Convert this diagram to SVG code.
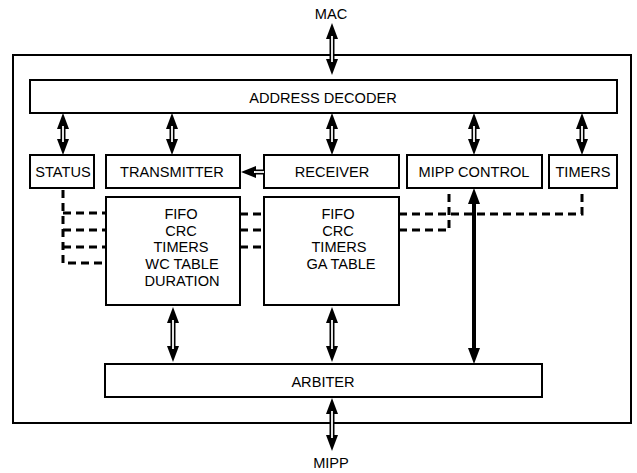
<svg xmlns="http://www.w3.org/2000/svg" width="637" height="473" viewBox="0 0 637 473">
<style>
.box{fill:#fff;stroke:#000;stroke-width:2}
.t{font-family:"Liberation Sans",Arial,sans-serif;font-size:14.6px;fill:#000;text-anchor:middle}
.hd{fill:#000;stroke:none}
.sh{stroke:#000;stroke-width:5;fill:none}
.wi{stroke:#fff;stroke-width:1.8;fill:none}
.dash{stroke:#000;stroke-width:3;fill:none;stroke-dasharray:8 5}
.solid{stroke:#000;stroke-width:4;fill:none}
</style>
<g id="outer"><rect class="box" x="13" y="55" width="618" height="368"/></g>
<g id="address-decoder"><rect class="box" x="30" y="80" width="587" height="33"/><text class="t" x="323" y="103">ADDRESS DECODER</text></g>
<g id="status"><rect class="box" x="30" y="155" width="64" height="33"/><text class="t" x="63" y="177">STATUS</text></g>
<g id="transmitter"><rect class="box" x="106" y="155" width="134" height="33"/><text class="t" x="172" y="177">TRANSMITTER</text></g>
<g id="receiver"><rect class="box" x="264" y="155" width="135" height="33"/><text class="t" x="332" y="177">RECEIVER</text></g>
<g id="mipp-control"><rect class="box" x="407" y="155" width="135" height="33"/><text class="t" x="474" y="177">MIPP CONTROL</text></g>
<g id="timers"><rect class="box" x="549" y="155" width="68" height="33"/><text class="t" x="583" y="177">TIMERS</text></g>
<g id="tx-blocks"><rect class="box" x="106" y="197" width="134" height="108"/>
<text class="t" x="181" y="219">FIFO</text><text class="t" x="181" y="235.7">CRC</text><text class="t" x="181" y="252.4">TIMERS</text><text class="t" x="182" y="269.1">WC TABLE</text><text class="t" x="182" y="285.8">DURATION</text></g>
<g id="rx-blocks"><rect class="box" x="264" y="197" width="135" height="108"/>
<text class="t" x="338" y="219">FIFO</text><text class="t" x="338" y="235.7">CRC</text><text class="t" x="339" y="252.4">TIMERS</text><text class="t" x="341" y="269.1">GA TABLE</text></g>
<g id="arbiter"><rect class="box" x="105" y="364" width="437" height="33"/><text class="t" x="323" y="387">ARBITER</text></g>
<g id="mac-label"><text class="t" x="331" y="18.5">MAC</text></g>
<g id="mipp-label"><text class="t" x="331" y="468">MIPP</text></g>
<g id="connectors">
<path class="dash" d="M63,190 V263 H106 M63,213 H106 M63,230 H106 M63,247 H106"/>
<path class="dash" d="M240,214 H264 M240,230 H264 M240,247 H264"/>
<path class="dash" d="M399,214 H582 V188 M399,230 H449 V188"/>
<line class="solid" x1="474" y1="200" x2="474" y2="352"/>
<polygon class="hd" points="474,188 468,204 480,204"/>
<polygon class="hd" points="474,364 468,348 480,348"/>
<g>
<line class="sh" x1="332" y1="35" x2="332" y2="63"/>
<polygon class="hd" points="332,23 326,39 338,39"/><polygon class="hd" points="332,75 326,59 338,59"/>
<line class="wi" x1="332" y1="36" x2="332" y2="62"/>
</g>
<g>
<line class="sh" x1="63" y1="125" x2="63" y2="143"/>
<polygon class="hd" points="63,113 57,129 69,129"/><polygon class="hd" points="63,155 57,139 69,139"/>
<line class="wi" x1="63" y1="126" x2="63" y2="142"/>
</g>
<g>
<line class="sh" x1="172" y1="125" x2="172" y2="143"/>
<polygon class="hd" points="172,113 166,129 178,129"/><polygon class="hd" points="172,155 166,139 178,139"/>
<line class="wi" x1="172" y1="126" x2="172" y2="142"/>
</g>
<g>
<line class="sh" x1="332" y1="125" x2="332" y2="143"/>
<polygon class="hd" points="332,113 326,129 338,129"/><polygon class="hd" points="332,155 326,139 338,139"/>
<line class="wi" x1="332" y1="126" x2="332" y2="142"/>
</g>
<g>
<line class="sh" x1="474" y1="125" x2="474" y2="143"/>
<polygon class="hd" points="474,113 468,129 480,129"/><polygon class="hd" points="474,155 468,139 480,139"/>
<line class="wi" x1="474" y1="126" x2="474" y2="142"/>
</g>
<g>
<line class="sh" x1="582" y1="125" x2="582" y2="143"/>
<polygon class="hd" points="582,113 576,129 588,129"/><polygon class="hd" points="582,155 576,139 588,139"/>
<line class="wi" x1="582" y1="126" x2="582" y2="142"/>
</g>
<g>
<line class="sh" x1="173" y1="319" x2="173" y2="350"/>
<polygon class="hd" points="173,307 167,323 179,323"/><polygon class="hd" points="173,362 167,346 179,346"/>
<line class="wi" x1="173" y1="320" x2="173" y2="349"/>
</g>
<g>
<line class="sh" x1="332" y1="319" x2="332" y2="350"/>
<polygon class="hd" points="332,307 326,323 338,323"/><polygon class="hd" points="332,362 326,346 338,346"/>
<line class="wi" x1="332" y1="320" x2="332" y2="349"/>
</g>
<g>
<line class="sh" x1="332" y1="410" x2="332" y2="439"/>
<polygon class="hd" points="332,398 326,414 338,414"/><polygon class="hd" points="332,451 326,435 338,435"/>
<line class="wi" x1="332" y1="411" x2="332" y2="438"/>
</g>
<g>
<line class="sh" x1="264" y1="172" x2="252" y2="172"/>
<polygon class="hd" points="241,172 256,166 256,178"/>
<line class="wi" x1="264" y1="172" x2="254" y2="172"/>
</g>
</g>
</svg>
